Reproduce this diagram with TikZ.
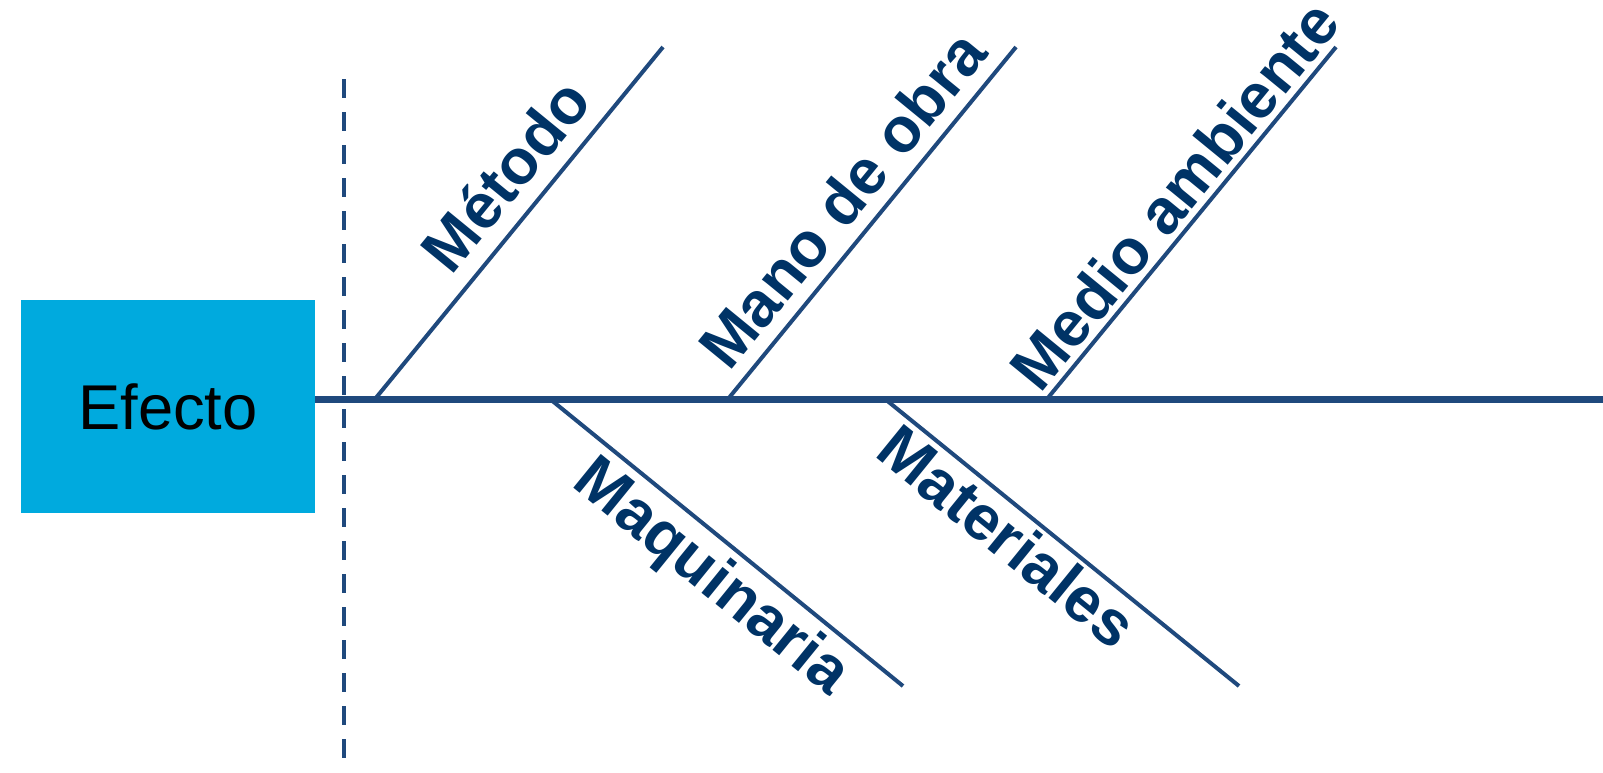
\documentclass[tikz,border=0pt]{standalone}
\usepackage{fontspec}
\setmainfont{Liberation Sans}
\definecolor{bonecol}{HTML}{1F497D}
\definecolor{causecol}{HTML}{003366}
\definecolor{boxcol}{HTML}{00AADE}
\tikzset{
  bone/.style={draw=bonecol, line width=0.04cm},
  cause/.style={text=causecol, font=\fontsize{18}{21}\selectfont\bfseries, inner sep=0pt, anchor=base west},
}
\begin{document}
\begin{tikzpicture}[x=0.01cm, y=-0.01cm]
    \useasboundingbox (0,0) rectangle (1603,772);
    \node (ef) at (168,406.5) [fill=boxcol, inner sep=0pt, minimum width=2.93cm, minimum height=2.13cm, font=\fontsize{18}{21}\selectfont] {Efecto};
    \coordinate (s) at (1603,399);
    \coordinate (d1) at (344,79);
    \coordinate (d2) at (344,772);
    \coordinate (f1) at (375,399);  \coordinate (h1) at (663,47);
    \coordinate (f2) at (728,399);  \coordinate (h2) at (1016,47);
    \coordinate (f3) at (1047,399); \coordinate (h3) at (1336,47);
    \coordinate (f4) at (550,399);  \coordinate (t4) at (903,686);
    \coordinate (f5) at (885,399);  \coordinate (t5) at (1239,686);
    \draw[bone, dash pattern=on 0.19cm off 0.14cm] (d1) -- (d2);
    \draw[bone] (f1) -- (h1);
    \draw[bone] (f2) -- (h2);
    \draw[bone] (f3) -- (h3);
    \draw[bone] (f4) -- (t4);
    \draw[bone] (f5) -- (t5);
    \draw[bone, line width=0.07cm] (ef.east |- s) -- (s);
    \node (met) at (451.3,277.3) [cause, rotate=50.7] {Método};
    \node (man) at (728.9,373.5) [cause, rotate=50.7] {Mano de obra};
    \node (med) at (1039.9,395.1) [cause, rotate=50.7] {Medio ambiente};
    \node (maq) at (569.8,485.5) [cause, rotate=-39.1] {Maquinaria};
    \node (mat) at (872.5,455.5) [cause, rotate=-39.1] {Materiales};
\end{tikzpicture}
\end{document}
